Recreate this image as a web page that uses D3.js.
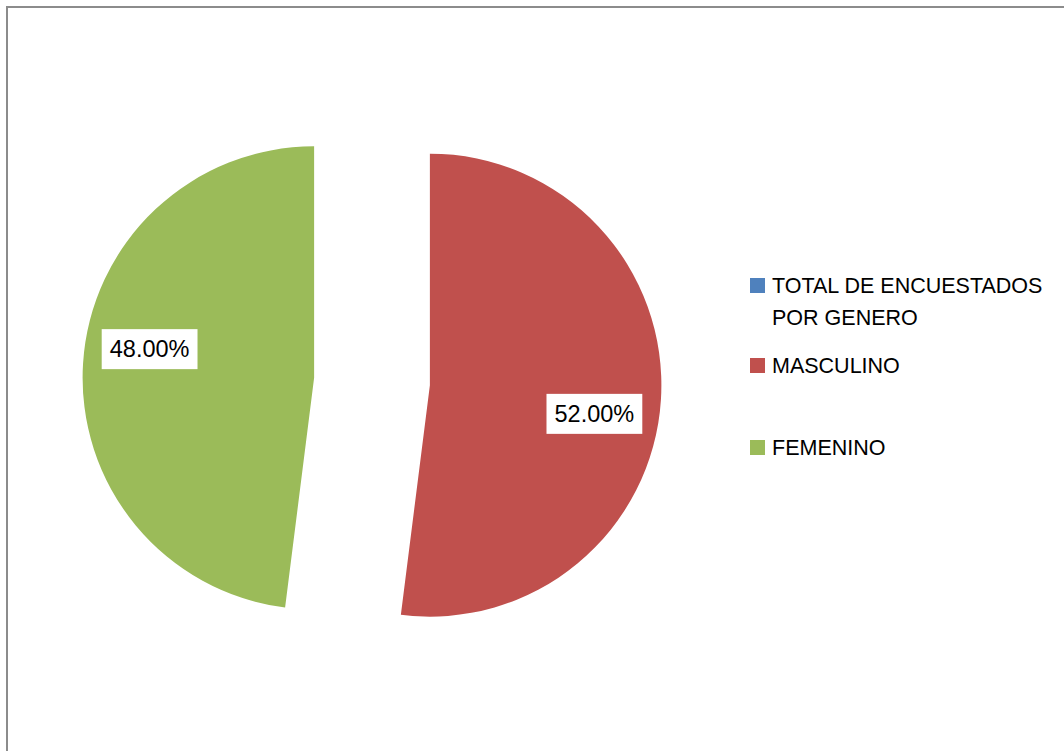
<!DOCTYPE html>
<html>
<head>
<meta charset="utf-8">
<script src="https://cdn.jsdelivr.net/npm/d3@7"></script>
<style>
  body { margin: 0; background: #fff; }
  svg { display: block; font-family: "Liberation Sans", Arial, sans-serif; }
</style>
</head>
<body>
<div id="chart"></div>
<script>
// Data
var categories = ["TOTAL DE ENCUESTADOS POR GENERO", "MASCULINO", "FEMENINO"];
var values = [0, 52, 48];
var labels = ["", "52.00%", "48.00%"];
var colors = ["#4F81BD", "#C0504D", "#9BBB59"];

var width = 1064, height = 751;
var cx = 372, cy = 381.5, radius = 231.5, explode = 58;

var svg = d3.select("#chart").append("svg")
  .attr("width", width)
  .attr("height", height);

// chart frame (runs off the right / bottom edge)
svg.append("rect")
  .attr("x", 7).attr("y", 7)
  .attr("width", 1120).attr("height", 800)
  .style("fill", "none")
  .style("stroke", "#8c8c8c")
  .style("stroke-width", 2);

var pie = d3.pie().value(function(d) { return d; }).sort(null);
var arcs = pie(values);

var arc = d3.arc().innerRadius(0).outerRadius(radius);

var g = svg.append("g").attr("transform", "translate(" + cx + "," + cy + ")");

function midAngle(d) { return (d.startAngle + d.endAngle) / 2; }

var slices = g.selectAll(".slice")
  .data(arcs.filter(function(d) { return d.value > 0; }))
  .enter().append("g")
  .attr("class", "slice")
  .attr("transform", function(d) {
    var a = midAngle(d);
    return "translate(" + (Math.sin(a) * explode) + "," + (-Math.cos(a) * explode) + ")";
  });

slices.append("path")
  .attr("d", arc)
  .style("fill", function(d) { return colors[d.index]; });

// data labels (best-fit position, a bit past the mid angle)
slices.each(function(d) {
  var a = midAngle(d) + 0.11, r = 167;
  var lx = Math.sin(a) * r, ly = -Math.cos(a) * r;
  var s = d3.select(this);
  var box = s.append("rect").style("fill", "#fff");
  var t = s.append("text")
    .attr("x", lx).attr("y", ly)
    .attr("text-anchor", "middle")
    .attr("dy", "0.35em")
    .style("font-size", "23.5px")
    .style("fill", "#000")
    .text(labels[d.index]);
  var bb = t.node().getBBox();
  box.attr("x", lx - bb.width / 2 - 8)
    .attr("y", ly - 20)
    .attr("width", bb.width + 16)
    .attr("height", 40);
});

// Legend
var legendRows = [
  { lines: ["TOTAL DE ENCUESTADOS", "POR GENERO"], y: 293 },
  { lines: ["MASCULINO"], y: 373 },
  { lines: ["FEMENINO"], y: 455 }
];
var legend = svg.append("g").attr("class", "legend");
legendRows.forEach(function(row, i) {
  legend.append("rect")
    .attr("x", 750).attr("y", row.y - 15)
    .attr("width", 15).attr("height", 15)
    .style("fill", colors[i]);
  row.lines.forEach(function(line, j) {
    legend.append("text")
      .attr("x", 772).attr("y", row.y + j * 32)
      .style("font-size", "21.5px")
      .style("fill", "#000")
      .text(line);
  });
});
</script>
</body>
</html>
